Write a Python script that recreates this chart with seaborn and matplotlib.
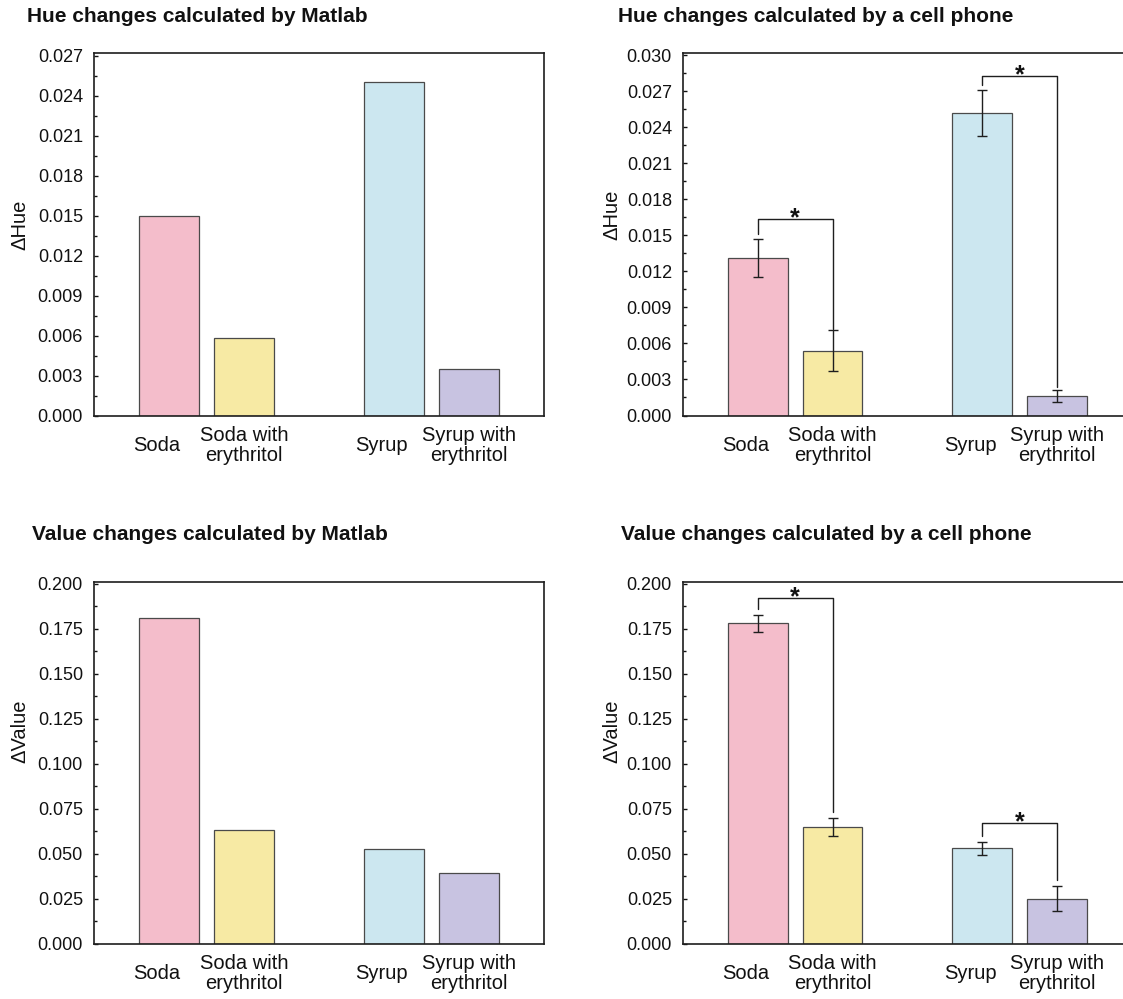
import matplotlib
matplotlib.use("Agg")
import matplotlib.pyplot as plt
import seaborn as sns
import pandas as pd
from matplotlib.ticker import MultipleLocator, AutoMinorLocator, FormatStrFormatter
from matplotlib.transforms import ScaledTranslation

# --- data ---
categories = ["Soda", "Soda with\nerythritol", "Syrup", "Syrup with\nerythritol"]
slot_order = ["Soda", "Soda with\nerythritol", "", "Syrup", "Syrup with\nerythritol"]  # empty slot = gap between groups
bar_colors = ["#F4BDCB", "#F7EAA4", "#CCE7F0", "#C8C3E1"]

hue_matlab = [0.0150, 0.0058, 0.0250, 0.0035]
hue_phone = [0.0131, 0.0054, 0.0252, 0.0016]
hue_phone_err = [0.0016, 0.0017, 0.0019, 0.0005]

value_matlab = [0.181, 0.063, 0.0526, 0.039]
value_phone = [0.178, 0.065, 0.053, 0.025]
value_phone_err = [0.0047, 0.0050, 0.0036, 0.0070]

# significance brackets: (left bar, right bar, bracket height, left leg end, right leg end)
hue_brackets = [(0, 1, 0.0164, 0.0151, 0.0072), (2, 3, 0.0283, 0.0275, 0.0024)]
value_brackets = [(0, 1, 0.192, 0.186, 0.0733), (2, 3, 0.0671, 0.0598, 0.0354)]

sns.set_theme(style="ticks")
plt.rcParams["font.family"] = ["Liberation Sans", "DejaVu Sans"]
plt.rcParams["text.color"] = "#111111"
plt.rcParams["axes.labelcolor"] = "#111111"
plt.rcParams["xtick.color"] = "#111111"
plt.rcParams["ytick.color"] = "#111111"

fig = plt.figure(figsize=(11.23, 9.99), dpi=100)
W, H = 1123, 999


def draw_panel(px_box, title, title_px, values, ylabel, ytop, ystep, label_xy, errs=None, brackets=None):
    left, top, right, bottom = px_box
    ax = fig.add_axes([left / W, 1 - bottom / H, (right - left) / W, (bottom - top) / H])
    df = pd.DataFrame({"cat": categories, "val": values})
    sns.barplot(data=df, x="cat", y="val", order=slot_order, hue="cat", hue_order=categories,
                palette=bar_colors, saturation=1, legend=False, width=0.8,
                edgecolor="#4a4a4a", linewidth=0.9, ax=ax)
    xpos = [slot_order.index(c) for c in categories]

    if errs is not None:
        ax.errorbar(xpos, values, yerr=errs, fmt="none", ecolor="#1e1e1e",
                    elinewidth=1.0, capsize=3.3, capthick=1.0, zorder=5)
    if brackets is not None:
        for i, j, yb, yl, yr in brackets:
            ax.plot([xpos[i], xpos[i], xpos[j], xpos[j]], [yl, yb, yb, yr],
                    color="#1e1e1e", lw=1.0, zorder=5)
            ax.annotate("*", xy=((xpos[i] + xpos[j]) / 2, yb), xytext=(0, -4.5),
                        textcoords="offset points", ha="center", va="baseline",
                        fontsize=18, fontweight="bold", color="#111111")

    ax.set_xlim(-1, 5)
    ax.set_ylim(0, ytop)
    ax.yaxis.set_major_locator(MultipleLocator(ystep))
    ax.yaxis.set_minor_locator(AutoMinorLocator(2))
    ax.yaxis.set_major_formatter(FormatStrFormatter("%.3f"))
    ax.tick_params(axis="y", which="major", direction="in", length=3.2, width=1.0,
                   labelsize=13, pad=8)
    ax.tick_params(axis="y", which="minor", direction="in", length=2.2, width=1.0)
    ax.tick_params(axis="x", length=0, pad=21.5, labelsize=14.5)
    ax.set_xticks(xpos, categories)
    for lbl in ax.get_xticklabels():
        lbl.set_verticalalignment("center")
        lbl.set_linespacing(1.1)
        if "\n" not in lbl.get_text():
            lbl.set_transform(lbl.get_transform() + ScaledTranslation(-0.12, 0, fig.dpi_scale_trans))
    ax.set_xlabel("")
    ax.set_ylabel(ylabel, fontsize=14.5)
    ax.yaxis.set_label_coords(*label_xy)
    for s in ax.spines.values():
        s.set_linewidth(1.2)
        s.set_color("#1e1e1e")

    fig.text(title_px[0] / W, 1 - title_px[1] / H, title, fontsize=15, fontweight="bold",
             ha="left", va="baseline")
    return ax


draw_panel((94, 53, 543.6, 415.5), "Hue changes calculated by Matlab", (27, 22.5),
           hue_matlab, "ΔHue", 0.0272, 0.003, (-0.144, 0.525))
draw_panel((683, 53, 1131.5, 415.5), "Hue changes calculated by a cell phone", (617.5, 22.5),
           hue_phone, "ΔHue", 0.0302, 0.003, (-0.138, 0.553),
           errs=hue_phone_err, brackets=hue_brackets)
draw_panel((94, 581.7, 543.6, 943.7), "Value changes calculated by Matlab", (32, 539.5),
           value_matlab, "ΔValue", 0.2011, 0.025, (-0.144, 0.588))
draw_panel((683, 581.7, 1131.5, 943.7), "Value changes calculated by a cell phone", (621, 539.5),
           value_phone, "ΔValue", 0.2011, 0.025, (-0.138, 0.588),
           errs=value_phone_err, brackets=value_brackets)

fig.savefig("out.png", dpi=100)
